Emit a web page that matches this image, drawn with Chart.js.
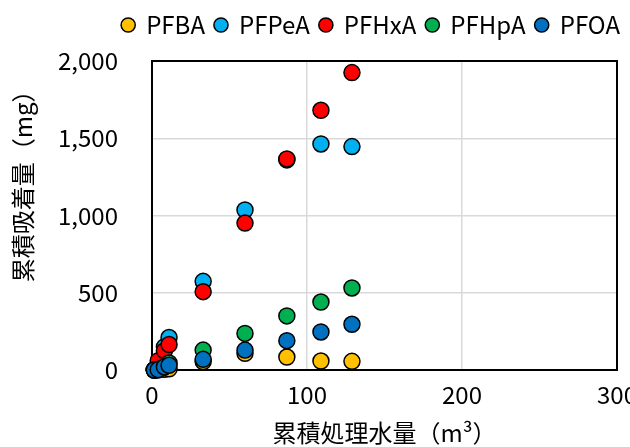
<!DOCTYPE html>
<html>
<head>
<meta charset="utf-8">
<script src="https://cdn.jsdelivr.net/npm/chart.js@4.4.1/dist/chart.umd.min.js"></script>
<style>
    html, body { margin: 0; padding: 0; background: #fff; }
    #wrap { width: 630px; height: 447px; }
</style>
</head>
<body>
<div id="wrap"><canvas id="chart" width="630" height="447"></canvas></div>
<script>
// cumulative treated water volume (m3)
const volume = [1.5, 4, 8, 11, 33, 60, 87, 109, 129];

// cumulative adsorbed amount (mg)
const pfba  = [0, 2, 5, 8, 55, 108, 84, 58, 56];
const pfpea = [1, 15, 150, 210, 574, 1036, 1360, 1463, 1446];
const pfhxa = [2, 60, 125, 165, 507, 951, 1366, 1681, 1925];
const pfhpa = [0, 5, 20, 45, 129, 237, 350, 440, 531];
const pfoa  = [0, 2, 20, 30, 69, 129, 190, 246, 296];

const seriesNames = ["PFBA", "PFPeA", "PFHxA", "PFHpA", "PFOA"];
const seriesValues = [pfba, pfpea, pfhxa, pfhpa, pfoa];
const seriesColors = ["#FFC000", "#00B0F0", "#FF0000", "#00B050", "#0070C0"];

const xTicks = [0, 100, 200, 300];
const yTicks = [0, 500, 1000, 1500, 2000];

const fontFamily = "'Noto Sans CJK JP', 'Noto Sans', sans-serif";

// plot area frame, drawn under the markers
const frameBox = {
    id: "frameBox",
    beforeDatasetsDraw(chart) {
        const { ctx, chartArea } = chart;
        ctx.save();
        ctx.strokeStyle = "#000";
        ctx.lineWidth = 2;
        ctx.strokeRect(chartArea.left, chartArea.top,
            chartArea.right - chartArea.left, chartArea.bottom - chartArea.top);
        ctx.restore();
    }
};

// legend sits close to the top edge, the plot starts lower
const legendLift = {
    id: "legendLift",
    afterLayout(chart) {
        const lg = chart.legend;
        if (!lg) return;
        const shift = lg.top - 3;
        lg.top -= shift;
        lg.bottom -= shift;
    }
};

const datasets = seriesNames.map((name, i) => ({
    label: name,
    data: volume.map((v, j) => ({ x: v, y: seriesValues[i][j] })),
    backgroundColor: seriesColors[i],
    borderColor: "#000",
    borderWidth: 1.5,
    pointRadius: 8,
    pointHoverRadius: 8,
    clip: false,
    order: seriesNames.length - i   // later series drawn on top
}));

new Chart(document.getElementById("chart"), {
    type: "scatter",
    data: { datasets: datasets },
    options: {
        responsive: false,
        animation: false,
        layout: { padding: 0 },
        plugins: {
            tooltip: { enabled: false },
            legend: {
                display: true,
                position: "top",
                align: "end",
                labels: {
                    usePointStyle: true,
                    pointStyle: "circle",
                    boxHeight: 10,
                    boxWidth: 12,
                    padding: 10,
                    color: "#000",
                    font: { family: fontFamily, size: 24 },
                    sort: (a, b) => a.datasetIndex - b.datasetIndex
                }
            }
        },
        scales: {
            x: {
                type: "linear",
                min: 0,
                max: 300,
                afterBuildTicks: (scale) => { scale.ticks = xTicks.map(v => ({ value: v })); },
                afterFit: (scale) => {
                    scale.height = 77;
                    scale.paddingLeft = 0;
                    scale.paddingRight = 13;
                },
                grid: { color: "#d9d9d9", lineWidth: 1.5, drawTicks: false },
                border: { display: false },
                ticks: {
                    color: "#000",
                    padding: 10,
                    maxRotation: 0,
                    font: { family: fontFamily, size: 24 }
                },
                title: {
                    display: true,
                    text: "累積処理水量（m³）",
                    color: "#000",
                    padding: { top: 0, bottom: 0 },
                    font: { family: fontFamily, size: 24 }
                }
            },
            y: {
                type: "linear",
                min: 0,
                max: 2000,
                afterBuildTicks: (scale) => { scale.ticks = yTicks.map(v => ({ value: v })); },
                afterFit: (scale) => {
                    scale.width = 152;
                    scale.paddingTop = 61;
                    scale.paddingBottom = 0;
                },
                grid: { color: "#d9d9d9", lineWidth: 1.5, drawTicks: false },
                border: { display: false },
                ticks: {
                    color: "#000",
                    padding: 34,
                    font: { family: fontFamily, size: 24 },
                    callback: (v) => v.toLocaleString("en-US")
                },
                title: {
                    display: true,
                    align: "end",
                    text: "累積吸着量（mg）\u3000 ",
                    color: "#000",
                    padding: { top: 8, bottom: 0 },
                    font: { family: fontFamily, size: 24 }
                }
            }
        }
    },
    plugins: [frameBox, legendLift]
});
</script>
</body>
</html>
